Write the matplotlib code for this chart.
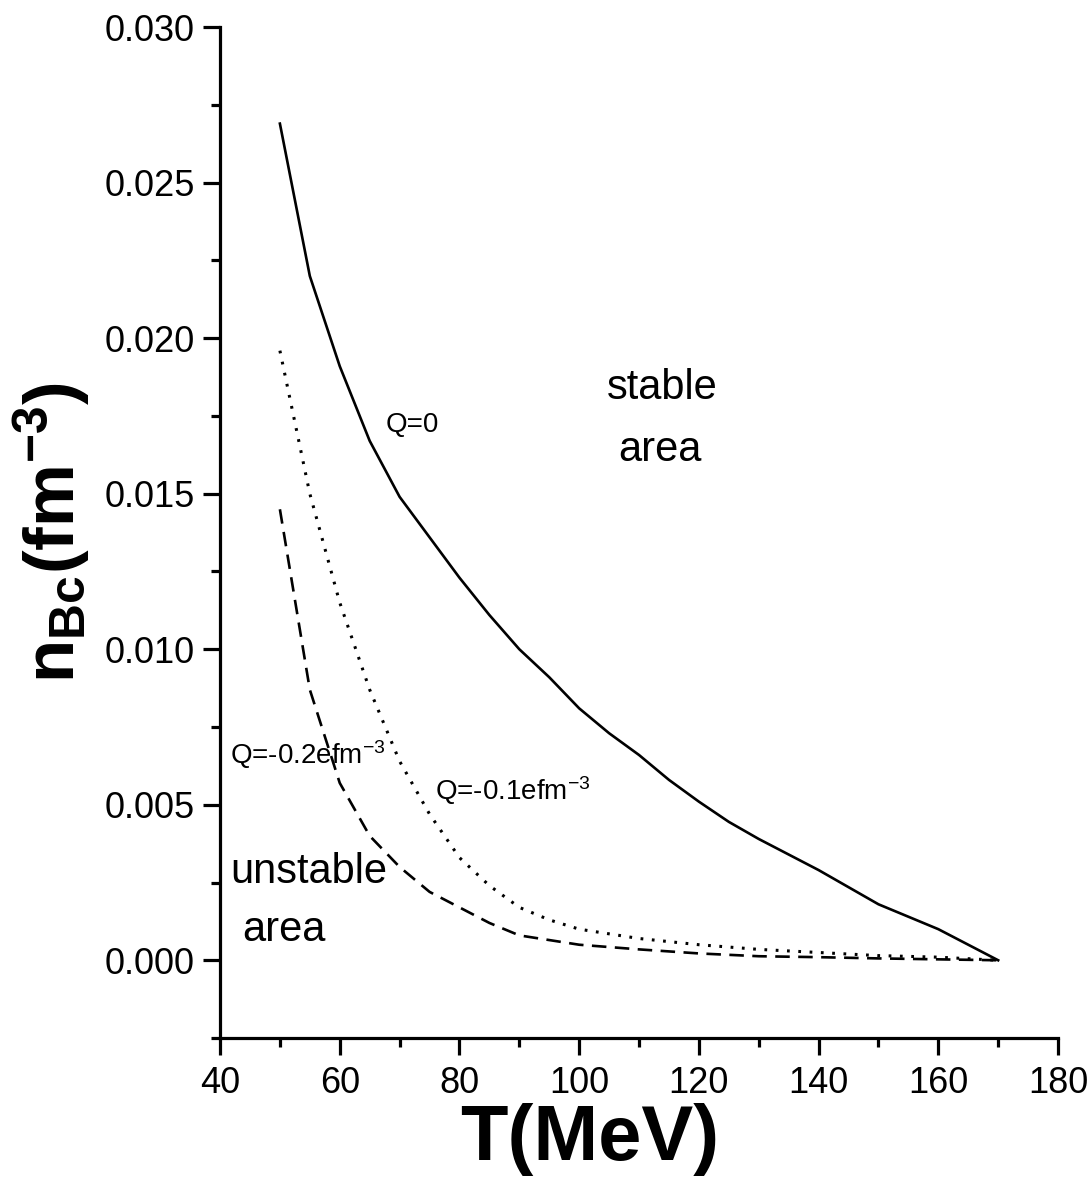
import numpy as np
import matplotlib
matplotlib.use("Agg")
import matplotlib.pyplot as plt
from matplotlib.ticker import MultipleLocator, FormatStrFormatter

plt.rcParams['font.family'] = ['Liberation Sans', 'DejaVu Sans']
plt.rcParams['mathtext.fontset'] = 'custom'
plt.rcParams['mathtext.rm'] = 'Liberation Sans'
plt.rcParams['mathtext.it'] = 'Liberation Sans'
plt.rcParams['mathtext.bf'] = 'Liberation Sans:bold'

# temperature (MeV)
T_q0 = [50, 55, 60, 65, 70, 75, 80, 85, 90, 95, 100, 105, 110, 115, 120, 125, 130, 140, 150, 155, 160, 170]
n_q0 = [0.0269, 0.0220, 0.0191, 0.0167, 0.0149, 0.0136, 0.0123, 0.0111, 0.0100, 0.0091, 0.0081,
        0.0073, 0.0066, 0.0058, 0.0051, 0.00445, 0.0039, 0.0029, 0.0018, 0.0014, 0.0010, 0.0]

T_q1 = [50, 55, 60, 65, 70, 75, 80, 85, 90, 95, 100, 110, 120, 130, 140, 150, 160, 170]
n_q1 = [0.0196, 0.0150, 0.0115, 0.0087, 0.0064, 0.0047, 0.0033, 0.0024, 0.0017, 0.0013, 0.0010,
        0.0007, 0.0005, 0.00035, 0.00025, 0.00015, 0.0001, 0.0]

T_q2 = [50, 55, 60, 65, 70, 75, 80, 85, 90, 100, 110, 120, 130, 140, 150, 160, 170]
n_q2 = [0.0145, 0.0087, 0.0057, 0.0040, 0.0030, 0.0022, 0.0017, 0.0012, 0.0008, 0.0005,
        0.00035, 0.00022, 0.00013, 0.0001, 0.00006, 0.00003, 0.0]

fig = plt.figure(figsize=(10.92, 11.82), dpi=100)
ax = fig.add_axes([0.2015, 0.1218, 0.7674, 0.8552])

ax.plot(T_q0, n_q0, color='black', lw=1.9)
ax.plot(T_q1, n_q1, color='black', lw=2.2, linestyle=(0, (0.9, 2.8)))
ax.plot(T_q2, n_q2, color='black', lw=1.9, linestyle=(0, (5.5, 3.2)))

ax.set_xlim(40, 180)
ax.set_ylim(-0.0025, 0.030)
ax.xaxis.set_major_locator(MultipleLocator(20))
ax.xaxis.set_minor_locator(MultipleLocator(10))
ax.set_yticks(np.arange(0, 0.0301, 0.005))
ax.yaxis.set_minor_locator(MultipleLocator(0.0025))
ax.yaxis.set_major_formatter(FormatStrFormatter('%.3f'))

for s in ['top', 'right']:
    ax.spines[s].set_visible(False)
for s in ['left', 'bottom']:
    ax.spines[s].set_linewidth(2.3)
ax.tick_params(which='major', direction='out', length=12, width=2.3, labelsize=26, pad=6)
ax.tick_params(axis='x', which='major', pad=8)
ax.tick_params(which='minor', direction='out', length=6.5, width=2.3)

ax.set_xlabel('T(MeV)', fontsize=56, fontweight='bold')
ax.xaxis.set_label_coords(0.4415, -0.064)
ax.set_ylabel(r'$\mathbf{n_{Bc}(fm^{-3})}$', fontsize=51)
ax.yaxis.set_label_coords(-0.153, 0.5)

ax.text(67.6, 0.0172, 'Q=0', fontsize=20, ha='left', va='center')
ax.text(41.7, 0.0066, r'Q=-0.2efm$^{-3}$', fontsize=20, ha='left', va='center')
ax.text(75.9, 0.00547, r'Q=-0.1efm$^{-3}$', fontsize=20, ha='left', va='center')
ax.text(113.8, 0.0184, 'stable', fontsize=30, ha='center', va='center')
ax.text(113.5, 0.0164, 'area', fontsize=30, ha='center', va='center')
ax.text(41.7, 0.00283, 'unstable', fontsize=30, ha='left', va='center')
ax.text(43.7, 0.00096, 'area', fontsize=30, ha='left', va='center')

fig.savefig('out.png', dpi=100)
